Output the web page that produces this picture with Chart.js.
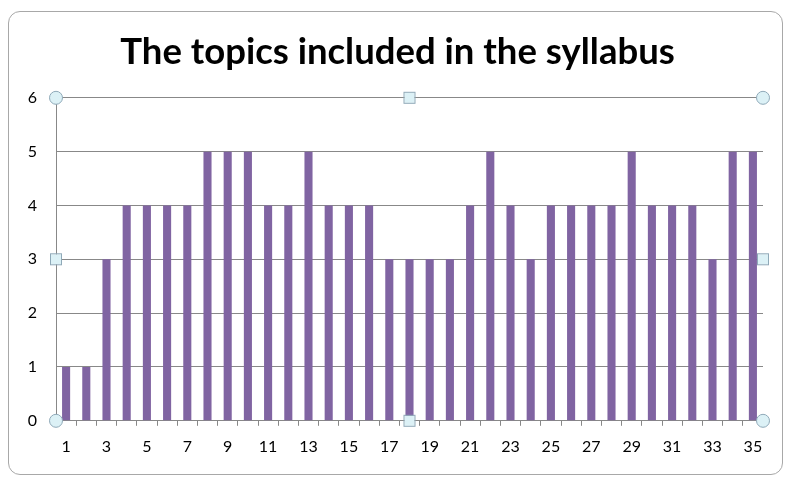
<!DOCTYPE html>
<html>
<head>
<meta charset="utf-8">
<script src="https://cdn.jsdelivr.net/npm/chart.js@4"></script>
<style>
  html, body { margin: 0; padding: 0; background: #ffffff; }
  #wrap { position: relative; width: 789px; height: 482px; }
  #frame { position: absolute; left: 8px; top: 11px; width: 773px; height: 462px;
           border: 1px solid #a8a8a8; border-radius: 12px; background: #fff; }
  canvas { position: absolute; left: 0; top: 0; }
</style>
</head>
<body>
<div id="wrap">
  <div id="frame"></div>
  <canvas id="c" width="789" height="482"></canvas>
</div>
<script>
const titleText = "The topics included in the syllabus";
const categories = ["1","2","3","4","5","6","7","8","9","10","11","12","13","14","15","16","17","18","19","20","21","22","23","24","25","26","27","28","29","30","31","32","33","34","35"];
const values = [1,1,3,4,4,4,4,5,5,5,4,4,5,4,4,4,3,3,3,3,4,5,4,3,4,4,4,4,5,4,4,4,3,5,5];
const yTicks = [0,1,2,3,4,5,6];

const handles = {
  id: 'handles',
  afterLayout(chart) {
    // centre the title over the plot frame rather than the whole canvas
    if (chart.titleBlock) { chart.titleBlock.left += 32; }
  },
  afterDraw(chart) {
    const a = chart.chartArea, ctx = chart.ctx;
    ctx.save();
    ctx.fillStyle = '#dcf1f6';
    ctx.strokeStyle = '#8fa9b8';
    ctx.lineWidth = 1;
    const circ = [[a.left,a.top],[a.right,a.top],[a.left,a.bottom],[a.right,a.bottom]];
    circ.forEach(([x,y]) => { ctx.beginPath(); ctx.arc(x,y,6.5,0,Math.PI*2); ctx.fill(); ctx.stroke(); });
    const mx = (a.left+a.right)/2, my = (a.top+a.bottom)/2;
    const sq = [[mx,a.top],[mx,a.bottom],[a.left,my],[a.right,my]];
    sq.forEach(([x,y]) => { ctx.fillRect(x-5,y-5,10,10); ctx.strokeRect(x-5.5,y-5.5,11,11); });
    ctx.restore();
  }
};

new Chart(document.getElementById('c'), {
  type: 'bar',
  data: {
    labels: categories,
    datasets: [{
      data: values,
      backgroundColor: '#8064A2',
      borderWidth: 0,
      barPercentage: 0.4,
      categoryPercentage: 1.0
    }]
  },
  options: {
    responsive: false,
    animation: false,
    devicePixelRatio: 1,
    layout: { padding: { left: 0, right: 26, top: 0, bottom: 15 } },
    plugins: {
      legend: { display: false },
      tooltip: { enabled: false },
      title: {
        display: true,
        text: titleText,
        color: '#000',
        font: { family: 'Lato', size: 36.5, weight: 'bold', lineHeight: 1.2 },
        padding: { top: 30, bottom: 24 }
      }
    },
    scales: {
      x: {
        grid: { drawOnChartArea: false, drawTicks: true, tickLength: 5, color: '#888888', offset: true },
        border: { display: true, color: '#888888' },
        ticks: {
          autoSkip: false, maxRotation: 0, minRotation: 0,
          padding: 11,
          color: '#000',
          font: { family: 'Lato', size: 16 },
          callback: function(v, i) { return i % 2 === 0 ? categories[i] : ''; }
        }
      },
      y: {
        min: 0, max: 6,
        afterFit: (s) => { s.width = 56; },
        afterBuildTicks: (s) => { s.ticks = yTicks.map(v => ({ value: v })); },
        grid: { color: '#888888', drawTicks: false },
        border: { display: true, color: '#888888' },
        ticks: { stepSize: 1, padding: 19, color: '#000', font: { family: 'Lato', size: 16 } }
      }
    }
  },
  plugins: [handles]
});
</script>
</body>
</html>
